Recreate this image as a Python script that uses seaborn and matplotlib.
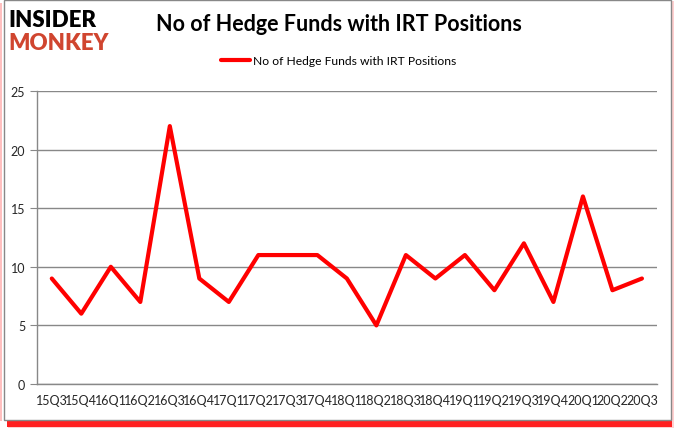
import numpy as np
import pandas as pd
import matplotlib
matplotlib.use("Agg")
import matplotlib.pyplot as plt
import seaborn as sns
from matplotlib.patches import Rectangle

# data
quarters = ["15Q3", "15Q4", "16Q1", "16Q2", "16Q3", "16Q4", "17Q1", "17Q2", "17Q3", "17Q4",
            "18Q1", "18Q2", "18Q3", "18Q4", "19Q1", "19Q2", "19Q3", "19Q4", "20Q1", "20Q2", "20Q3"]
funds = [9, 6, 10, 7, 22, 9, 7, 11, 11, 11, 9, 5, 11, 9, 11, 8, 12, 7, 16, 8, 9]
series_name = "No of Hedge Funds with IRT Positions"

df = pd.DataFrame({"pos": np.arange(len(quarters)), "funds": funds, "series": series_name})

sns.set_style("white")
plt.rcParams['font.family'] = ['Lato', 'DejaVu Sans']

fig = plt.figure(figsize=(6.77, 4.31), dpi=100)

# frame with red shadow
fig.patches.append(Rectangle((0.0, 0.02), 0.003, 0.97, transform=fig.transFigure,
                             facecolor="#ffc0c0", edgecolor="none", zorder=-3))
fig.patches.append(Rectangle((0.012, 0.005), 0.984, 0.99, transform=fig.transFigure,
                             facecolor="#ffd0d0", edgecolor="none", zorder=-4))
fig.patches.append(Rectangle((0.01, 0.008), 0.982, 0.03, transform=fig.transFigure,
                             facecolor="#ff2020", edgecolor="none", zorder=-3))
fig.patches.append(Rectangle((0.006, 0.024), 0.985, 0.974, transform=fig.transFigure,
                             fill=True, facecolor="white", edgecolor="#888888", linewidth=1, zorder=-1))

ax = fig.add_axes([0.0547, 0.1067, 0.9153, 0.68])
ax.set_zorder(2)

sns.lineplot(data=df, x="pos", y="funds", hue="series", palette=["#ff0000"],
             linewidth=3, ax=ax, legend=False)

ax.set_xlim(-0.5, len(quarters) - 0.5)
ax.set_ylim(0, 25)
ax.set_yticks([0, 5, 10, 15, 20, 25])
ax.set_xticks(np.arange(len(quarters)))
ax.set_xticklabels(quarters, fontsize=9)
ax.set_xticks(np.arange(len(quarters) + 1) - 0.5, minor=True)
ax.tick_params(axis="x", which="major", length=0, pad=7)
ax.tick_params(axis="x", which="minor", length=5, color="#888888", width=1)
ax.tick_params(axis="y", length=5, color="#888888", labelsize=9, direction="out", left=True)
ax.set_xlabel("")
ax.set_ylabel("")
ax.yaxis.grid(True, color="#888888", linewidth=1)
ax.set_axisbelow(True)
for s in ["top", "right"]:
    ax.spines[s].set_visible(False)
for s in ["left", "bottom"]:
    ax.spines[s].set_color("#888888")
    ax.spines[s].set_linewidth(1)

# title and legend
fig.text(0.5, 0.942, series_name, ha="center", va="center", fontsize=15.5, fontweight="bold",
         color="black", zorder=3)
fig.lines.append(plt.Line2D([0.327, 0.369], [0.858, 0.858], transform=fig.transFigure,
                            color="#ff0000", linewidth=3, zorder=3))
fig.text(0.374, 0.858, series_name, ha="left", va="center", fontsize=8.7, color="black", zorder=3)

# logo
fig.text(0.012, 0.953, "INSIDER", ha="left", va="center", fontsize=16, fontweight="heavy",
         color="black", zorder=3)
fig.text(0.012, 0.900, "MONKEY", ha="left", va="center", fontsize=16, fontweight="heavy",
         color="#d0452f", zorder=3)

fig.savefig("out.png", dpi=100)
